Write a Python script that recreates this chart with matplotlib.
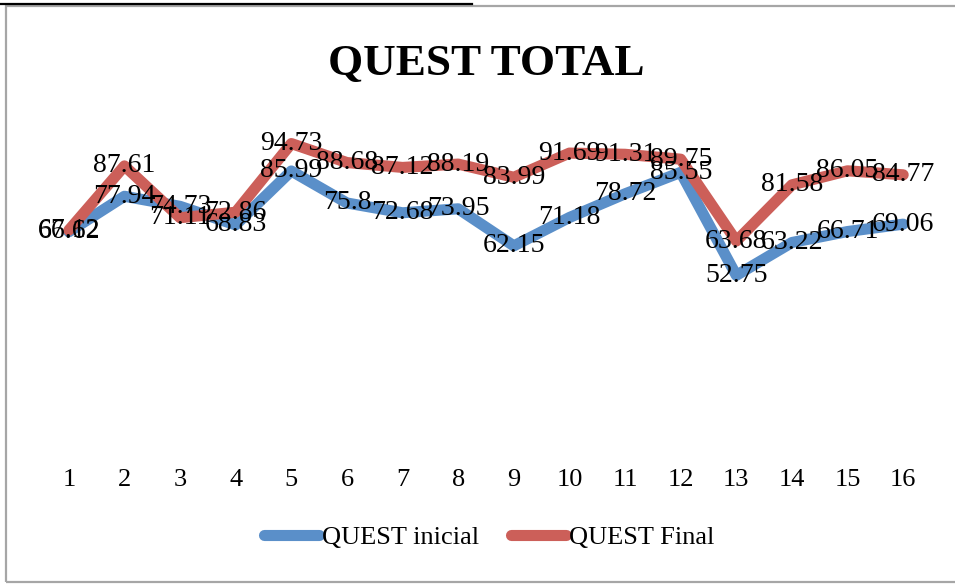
import numpy as np
import matplotlib.pyplot as plt
from matplotlib.lines import Line2D
from matplotlib.patches import Rectangle

categories = [str(i) for i in range(1, 17)]
quest_inicial = [66.62, 77.94, 74.73, 68.83, 85.99, 75.8, 72.68, 73.95,
                 62.15, 71.18, 78.72, 85.55, 52.75, 63.22, 66.71, 69.06]
quest_final = [67.12, 87.61, 71.11, 72.86, 94.73, 88.68, 87.12, 88.19,
               83.99, 91.69, 91.31, 89.75, 63.68, 81.58, 86.05, 84.77]

BLUE = "#5A8FC9"
RED = "#CC5F59"
SERIF = ["Liberation Serif", "DejaVu Serif"]


def main():
    plt.rcParams["font.family"] = SERIF
    fig = plt.figure(figsize=(9.55, 5.86), dpi=100)
    ax = fig.add_axes([41 / 955, 1 - 441 / 586, 890 / 955, 314 / 586])

    x = np.arange(len(categories))
    for vals, color, name in [(quest_inicial, BLUE, "QUEST inicial"),
                              (quest_final, RED, "QUEST Final")]:
        ax.plot(x, vals, color=color, lw=8, solid_capstyle="round",
                solid_joinstyle="round", label=name)
    for vals in (quest_inicial, quest_final):
        for xi, v in zip(x, vals):
            ax.text(xi, v, f"{v:g}", ha="center", va="center", fontsize=20,
                    color="black", zorder=5)

    ax.set_xlim(-0.5, len(categories) - 0.5)
    ax.set_ylim(0, 100)
    ax.set_xticks(x)
    ax.set_xticklabels(categories, fontsize=19)
    ax.set_yticks([])
    ax.tick_params(axis="x", length=0, pad=20)
    for s in ax.spines.values():
        s.set_visible(False)

    fig.text(486 / 955, 1 - 64 / 586, "QUEST TOTAL", ha="center", va="center",
             fontsize=32.5, fontweight="bold")

    fig.legend(loc="center", bbox_to_anchor=(489 / 955, 1 - 537 / 586), ncol=2,
               frameon=False, fontsize=19, handlelength=2.1, handletextpad=0.1,
               columnspacing=1.2)

    # chart border and the cut-off line of the page above
    fig.add_artist(Rectangle((5.5 / 955, 1 - 582 / 586), 960 / 955, 576 / 586,
                             transform=fig.transFigure, fill=False,
                             edgecolor="#A6A6A6", lw=1.6))
    fig.add_artist(Line2D([0, 472 / 955], [1 - 3.5 / 586] * 2,
                          transform=fig.transFigure, color="black", lw=1.6))

    fig.savefig("out.png", dpi=100)


if __name__ == "__main__":
    main()
